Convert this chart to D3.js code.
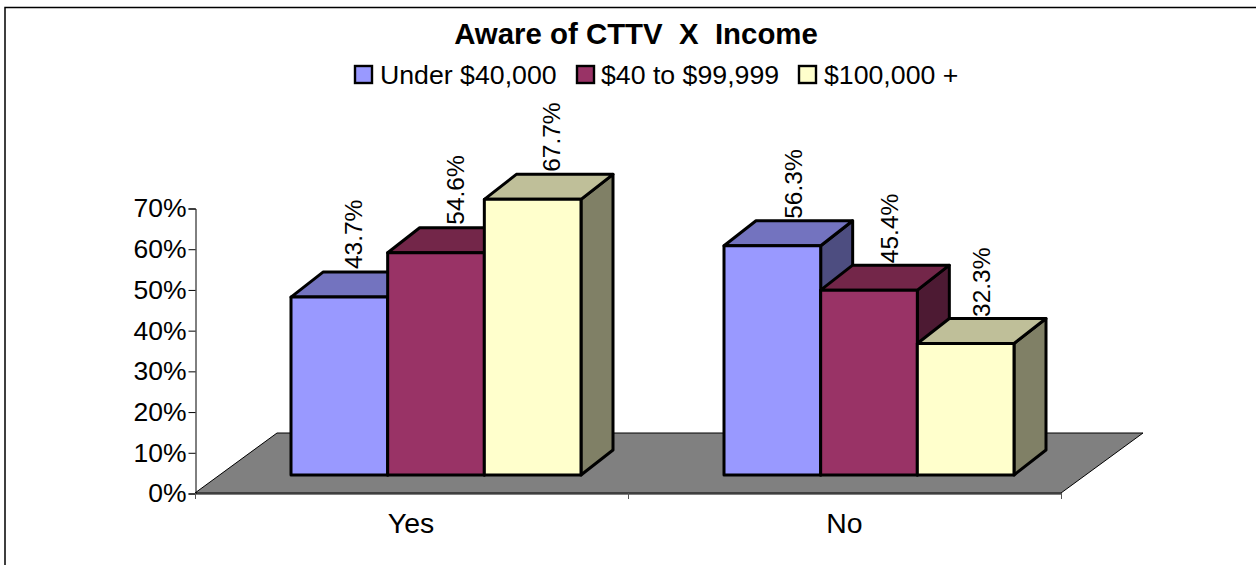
<!DOCTYPE html>
<html><head><meta charset="utf-8">
<script src="https://cdn.jsdelivr.net/npm/d3@7"></script>
<style>html,body{margin:0;padding:0;background:#fff}svg{display:block}text{font-family:"Liberation Sans",Arial,sans-serif;fill:#000}</style>
</head><body><script>
const categories = ["Yes", "No"];
const seriesNames = ["Under $40,000", "$40 to $99,999", "$100,000 +"];
const under40 = [43.7, 56.3];
const mid = [54.6, 45.4];
const over100 = [67.7, 32.3];
const seriesValues = [under40, mid, over100];
const yTicks = [0, 10, 20, 30, 40, 50, 60, 70];
const front = ["#9999ff", "#993366", "#ffffcc"];
const topc = ["#7373bf", "#732649", "#bfbf99"];
const sidec = ["#4d4d80", "#4d1a33", "#808066"];

const W = 1256, H = 565;
const svg = d3.select("body").append("svg").attr("width", W).attr("height", H);
svg.append("path").attr("d", "M5 565V7.5H1256").attr("fill", "none").attr("stroke", "#000").attr("stroke-width", 1.5);

svg.append("text").attr("x", 636).attr("y", 44).attr("text-anchor", "middle")
  .attr("font-size", 29.4).attr("font-weight", "bold").style("white-space", "pre")
  .text("Aware of CTTV  X  Income");

// legend
const legendX = [355, 577, 799];
const legendTextX = [380, 601, 824];
seriesNames.forEach((n, i) => {
  svg.append("rect").attr("x", legendX[i]).attr("y", 66).attr("width", 17).attr("height", 17)
    .attr("fill", front[i]).attr("stroke", "#000").attr("stroke-width", 2.4);
  svg.append("text").attr("x", legendTextX[i]).attr("y", 84).attr("font-size", 26.7).text(n);
});

// scales
const x0 = d3.scaleBand().domain(categories).range([195, 1061]);
const y = d3.scaleLinear().domain([0, 70]).range([493, 208]);
const h = d3.scaleLinear().domain([0, 70]).range([0, 285]);
const barX = d3.scaleBand().domain(d3.range(seriesNames.length)).range([96, 386]);
const dx = 32, dy = -25, baseY = 475;
const floorDx = 82, floorDy = -60;

// floor
const fl = [[195, 493], [1061, 493], [1061 + floorDx, 493 + floorDy], [195 + floorDx, 493 + floorDy]];
svg.append("path").attr("d", d3.line()(fl) + "Z").attr("fill", "#808080").attr("stroke", "none");
svg.append("path").attr("d", d3.line()([fl[0], fl[3], fl[2], fl[1], fl[0]])).attr("fill", "none").attr("stroke", "#000").attr("stroke-width", 1);

// y axis
const yAxis = d3.axisLeft(y).tickValues(yTicks).tickSize(7).tickPadding(2).tickFormat(d => d + "%");
const ya = svg.append("g").attr("transform", "translate(195.5,0.5)").call(yAxis);
ya.selectAll("text").attr("font-size", 26.5).attr("font-family", '"Liberation Sans"').attr("fill", "#000");
ya.selectAll("line,path").attr("stroke", "#000");

// x axis
const xAxis = d3.axisBottom(x0).tickSize(0).tickPadding(19);
const xa = svg.append("g").attr("transform", "translate(0,493.5)").call(xAxis);
xa.select("path").attr("stroke", "#000");
xa.selectAll("text").attr("font-size", 28.4).attr("font-family", '"Liberation Sans"').attr("fill", "#000");
[...x0.domain().map(c => x0(c)), x0.range()[1]].forEach(px => {
  svg.append("line").attr("x1", px + .5).attr("x2", px + .5).attr("y1", 493).attr("y2", 499).attr("stroke", "#555");
});
xa.selectAll(".tick").attr("transform", d => `translate(${x0(d) + (d === "Yes" ? 216 : 216.5)},0)`);

// bars
const lw = 3;
const labelShiftX = [[-5, 0, 0], [2, 1, -3]];
const labelShiftY = [[0, 0, 0.5], [1, 1, 1.5]];
categories.forEach((c, ci) => {
  const g = svg.append("g");
  seriesNames.forEach((s, si) => {
    const v = seriesValues[si][ci];
    const xl = x0(c) + barX(si), xr = xl + barX.bandwidth();
    const yt = baseY - h(v);
    const st = { stroke: "#000", "stroke-width": lw, "stroke-linejoin": "round" };
    const poly = (pts, fill) => {
      const p = g.append("path").attr("d", d3.line()(pts) + "Z").attr("fill", fill);
      Object.entries(st).forEach(([k, val]) => p.attr(k, val));
    };
    poly([[xr, baseY], [xr + dx, baseY + dy], [xr + dx, yt + dy], [xr, yt]], sidec[si]);
    poly([[xl, yt], [xl + dx, yt + dy], [xr + dx, yt + dy], [xr, yt]], topc[si]);
    poly([[xl, baseY], [xl, yt], [xr, yt], [xr, baseY]], front[si]);
    g.append("text")
      .attr("transform", `translate(${xl + 76 + labelShiftX[ci][si]},${yt + dy - 3 + labelShiftY[ci][si]}) rotate(-90)`)
      .attr("font-size", 24.5).text(v.toFixed(1) + "%");
  });
});
</script></body></html>
